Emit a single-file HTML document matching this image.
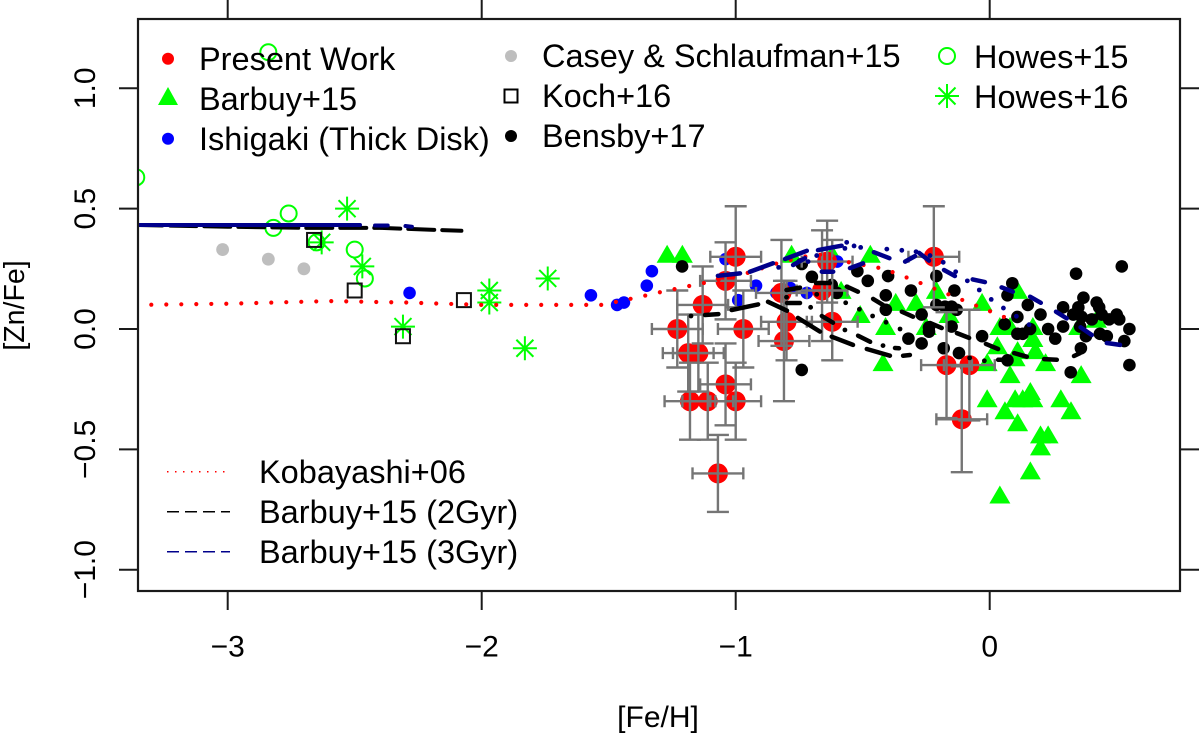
<!DOCTYPE html>
<html lang="en">
<head>
<meta charset="utf-8">
<title>[Zn/Fe] vs [Fe/H]</title>
<style>
html,body{margin:0;padding:0;background:#fff;}
svg{display:block;}
text{font-family:"Liberation Sans",Arial,sans-serif;fill:#000;}
.leg{font-size:32.5px;}
.tick{font-size:30px;}
.ttl{font-size:28.5px;}
.ttlx{font-size:30px;}
</style>
</head>
<body>
<svg id="chart" xmlns="http://www.w3.org/2000/svg" width="1200" height="735" viewBox="0 0 1200 735">
<rect x="0" y="0" width="1200" height="735" fill="#fff"/>
<defs><clipPath id="plotClip"><rect x="138" y="19" width="1042" height="572"/></clipPath></defs>
<g id="marks" clip-path="url(#plotClip)"></g>
<g id="axes"></g>
<text class="ttlx" x="658" y="727" text-anchor="middle">[Fe/H]</text>
<text class="ttl" x="0" y="0" text-anchor="middle" transform="translate(24 305.500) rotate(-90)">[Zn/Fe]</text>

<g>
<g>
<circle cx="168" cy="58.7" r="6" fill="#f00"/>
<text class="leg" x="199" y="70">Present Work</text></g>
<g>
<polygon points="168,87 178,105 158,105" fill="#0f0"/>
<text class="leg" x="199" y="110">Barbuy+15</text></g>
<g>
<circle cx="168" cy="138.7" r="6" fill="#00f"/>
<text class="leg" x="199" y="150">Ishigaki (Thick Disk)</text></g>
<g>
<circle cx="511" cy="56" r="6" fill="#bebebe"/>
<text class="leg" x="542" y="67">Casey &amp; Schlaufman+15</text></g>
<g>
<rect x="504.5" y="89.5" width="13" height="13" fill="none" stroke="#000" stroke-width="2"/>
<text class="leg" x="542" y="107">Koch+16</text></g>
<g>
<circle cx="511" cy="136" r="6" fill="#000"/>
<text class="leg" x="542" y="147">Bensby+17</text></g>
<g>
<circle cx="947" cy="56" r="8" fill="none" stroke="#0f0" stroke-width="2"/>
<text class="leg" x="974" y="68">Howes+15</text></g>
<g>
<path d="M947 84V108M935 96H959M938.5 87.5L955.500 104.500M938.500 104.500L955.500 87.500" stroke="#0f0" stroke-width="2" fill="none"/>
<text class="leg" x="974" y="108">Howes+16</text></g>
<g>
<line x1="167" y1="471.700" x2="230" y2="471.700" stroke="#f00" stroke-width="1.500" stroke-dasharray="1.500 6.500"/>
<text class="leg" x="259" y="483">Kobayashi+06</text></g>
<g>
<line x1="167" y1="511.700" x2="230" y2="511.700" stroke="#000" stroke-width="1.500" stroke-dasharray="12 6"/>
<text class="leg" x="259" y="523">Barbuy+15 (2Gyr)</text></g>
<g>
<line x1="167" y1="551.700" x2="230" y2="551.700" stroke="#00008b" stroke-width="1.500" stroke-dasharray="12 6"/>
<text class="leg" x="259" y="563">Barbuy+15 (3Gyr)</text></g>
</g>

<script>
// ---- Axis tick values ----
var xTicks = [-3, -2, -1, 0];
var yTicks = [-1, -0.5, 0, 0.5, 1];
var xTickLabels = ['\u22123', '\u22122', '\u22121', '0'];
var yTickLabels = ['\u22121.0', '\u22120.5', '0.0', '0.5', '1.0'];

// ---- Present Work ----
var presentFe = [-1.0,-1.04,-1.13,-1.23,-0.97,-1.187,-1.147,-1.04,-0.82,-0.80,-0.81,-0.64,-0.66,-0.62,-0.22,-0.17,-0.08,-0.11,-1.18,-1.11,-1.0,-1.07];
var presentZn = [0.30,0.20,0.10,0,0,-0.10,-0.10,-0.23,0.15,0.03,-0.05,0.28,0.16,0.03,0.30,-0.15,-0.15,-0.375,-0.30,-0.30,-0.30,-0.60];
var presentErrUp = [0.21,0.16,0.16,0.16,0.16,0.16,0.16,0.17,0.22,0.17,0.25,0.17,0.25,0.34,0.21,0.22,0.23,0.22,0.16,0.16,0.16,0.16];
var presentErrDown = [0.21,0.16,0.16,0.16,0.16,0.16,0.16,0.17,0.22,0.16,0.25,0.17,0.21,0.16,0.21,0.22,0.23,0.22,0.16,0.16,0.16,0.16];
var presentErrFe = 0.1;

// ---- Barbuy+15 ----
var barbuyFe = [-1.27,-1.21,-0.78,-0.62,-0.47,-0.585,-0.51,-0.41,-0.42,-0.37,-0.29,-0.21,-0.16,-0.25,-0.03,-0.01,-0.01,0.10,0.13,0.16,0.17,0.28,0.06,0.32,0.11,0.20,0.23,0.20,0.16,0.04,0.08,0.36,0.22,0.11,0.04,0.08,0.17,0.03,0.17,0.11,0.18,0.10,0.42,0.35];
var barbuyZn = [0.30,0.30,0.30,0.30,0.30,0.15,0.05,0,-0.15,0.10,0.10,0.15,0.05,0,0.10,-0.15,-0.30,-0.30,-0.30,-0.27,-0.30,-0.30,-0.35,-0.35,-0.40,-0.45,-0.45,-0.50,-0.60,-0.70,-0.20,-0.20,-0.15,0.15,0,0,0,-0.08,-0.05,-0.10,-0.10,-0.13,0.03,0];

// ---- Ishigaki ----
var ishigakiFe = [-2.284,-1.57,-1.467,-1.44,-1.35,-1.33,-1.04,-0.92,-0.99,-0.72,-0.84,-0.785,-0.60];
var ishigakiZn = [0.15,0.14,0.10,0.11,0.18,0.24,0.29,0.18,0.12,0.15,0.15,0.17,0.28];

// ---- Casey & Schlaufman+15 ----
var caseyFe = [-3.02,-2.84,-2.70];
var caseyZn = [0.33,0.29,0.25];

// ---- Koch+16 ----
var kochFe = [-2.66,-2.50,-2.31,-2.07];
var kochZn = [0.37,0.16,-0.03,0.12];

// ---- Bensby+17 ----
var bensbyFe = [-1.211,-0.74,-0.70,-0.74,-0.602,-0.622,-0.521,-0.48,-0.40,-0.409,-0.409,-0.31,-0.268,-0.32,-0.268,-0.21,-0.139,-0.21,-0.176,-0.15,-0.13,-0.239,-0.239,-0.15,-0.03,-0.181,-0.121,0.07,0.089,0.07,0.15,0.109,0.20,0.059,0.159,0.109,0.13,0.23,0.258,0.289,0.289,0.34,0.52,0.369,0.349,0.329,0.362,0.402,0.356,0.379,0.421,0.431,0.441,0.47,0.50,0.51,0.55,0.53,0.55,0.461,0.434,0.359,0.319];
var bensbyZn = [0.26,0.27,0.217,-0.17,0.15,0.183,0.24,0.20,0.22,0.14,0.08,0.16,0.06,-0.04,-0.06,0.22,0.16,0.10,0.093,0.093,0.08,0.007,-0.011,0.01,-0.03,-0.08,-0.10,-0.13,0.19,0.14,0.10,0.05,0.06,0.02,0,-0.02,-0.02,0,-0.04,0.01,0.09,0.23,0.26,0.13,0.09,0.06,0.05,0.04,0.01,-0.03,0.11,0.09,0.06,0.04,0.06,0.04,0,-0.05,-0.15,-0.03,-0.02,-0.08,-0.18];

// ---- Howes+15 ----
var howes15Fe = [-3.36,-2.76,-2.82,-2.65,-2.50,-2.46,-2.84];
var howes15Zn = [0.63,0.48,0.42,0.36,0.33,0.21,1.15];

// ---- Howes+16 ----
var howes16Fe = [-2.53,-2.63,-2.47,-2.31,-1.97,-1.97,-1.74,-1.83];
var howes16Zn = [0.50,0.36,0.26,0.01,0.16,0.11,0.21,-0.08];

// ---- Kobayashi+06 model ----
var kobayashiFe = [-3.36,-3.0,-2.6,-2.3,-2.0,-1.53,-1.393,-1.28,-1.164,-0.99,-0.822,-0.705,-0.65,-0.59,-0.416,-0.303,-0.083,0.08];
var kobayashiZn = [0.10,0.105,0.116,0.11,0.10,0.10,0.13,0.157,0.183,0.22,0.278,0.306,0.31,0.284,0.25,0.204,0.11,0.04];

// ---- Barbuy+15 2 Gyr model (null breaks the line between dashes) ----
var gyr2LeftFe = [-3.36,-3.0,-2.7,-2.4,-2.08];
var gyr2LeftZn = [0.432,0.425,0.42,0.42,0.408];
var gyr2UpperFe = [-0.80,-0.747,null,-0.684,-0.629,null,-0.563,-0.519,null,-0.459,-0.42,null,-0.346,-0.302,null,-0.235,-0.189,null,-0.129,-0.081,null,-0.015,0.033,null,0.096,0.146,null,0.214,0.264,null,0.332,0.356];
var gyr2UpperZn = [0.162,0.172,null,0.191,0.191,null,0.176,0.155,null,0.125,0.10,null,0.072,0.051,null,0.025,0.004,null,-0.017,-0.037,null,-0.062,-0.083,null,-0.10,-0.115,null,-0.125,-0.128,null,-0.112,-0.10];
var gyr2MiddleFe = [-1.121,-1.068,null,-1.016,-0.912,null,-0.873,-0.798,null,-0.755,-0.668,null,-0.622,-0.538,null,-0.484,-0.393,null,-0.341,-0.314,null,0.033,0.07];
var gyr2MiddleZn = [0.058,0.062,null,0.079,0.102,null,0.113,0.076,null,0.046,-0.011,null,-0.032,-0.066,null,-0.083,-0.111,null,-0.111,-0.108,null,-0.128,-0.128];
var gyr2LowerFe = [-0.798,-0.747,null,-0.661,-0.617,null,-0.518,-0.471,null,-0.373,-0.357];
var gyr2LowerZn = [0.108,0.108,null,0.054,0.026,null,-0.028,-0.053,null,-0.079,-0.08];
var gyr2DotsFe = [-1.176,-0.80,-0.681,-0.705,-0.567,-0.57,-0.513,-0.461,-0.408,-0.353,-0.42,-0.079,-0.021];
var gyr2DotsZn = [0.054,0.132,0.144,0.09,0.109,-0.004,0.082,0.054,0.028,0,-0.069,-0.12,-0.132];

// ---- Barbuy+15 3 Gyr model ----
var gyr3LeftFe = [-3.36,-2.479,null,-2.42,-2.37,null,-2.30,-2.275];
var gyr3LeftZn = [0.432,0.432,null,0.43,0.43,null,0.428,0.425];
var gyr3UpperFe = [-1.07,-0.983,null,-0.944,-0.853,null,-0.806,-0.72,null,-0.676,-0.583,null,-0.456,-0.395,null,-0.278,-0.239,null,-0.18,-0.137,null,-0.067,-0.019,null,0.047,0.091,null,0.159,0.201,null,0.261,0.303,null,0.358,0.402,null,0.461,0.513];
var gyr3UpperZn = [0.221,0.231,null,0.238,0.273,null,0.291,0.325,null,0.328,0.346,null,0.319,0.294,null,0.316,0.284,null,0.245,0.22,null,0.206,0.195,null,0.173,0.155,null,0.134,0.109,null,0.072,0.044,null,0.007,-0.025,null,-0.058,-0.066];
var gyr3LowerFe = [-0.774,-0.727,null,-0.661,-0.616,null,-0.55,-0.499,null,-0.333,-0.294];
var gyr3LowerZn = [0.266,0.294,null,0.238,0.238,null,0.253,0.273,null,0.28,0.303];
var gyr3DotsFe = [-0.831,-0.715,-0.681,-0.57,-0.563,-0.534,-0.508,-0.405,-0.346,-0.29,-0.235,-0.183,-0.134,-0.088,-0.041,0.006,0.054,0.105,0.155];
var gyr3DotsZn = [0.256,0.28,0.305,0.335,0.36,0.345,0.339,0.332,0.327,0.321,0.305,0.277,0.238,0.20,0.162,0.123,0.087,0.053,0.018];

// ---- Axis functions ----
function xScale(v){ return 989.7 + 254 * v; }
function yScale(v){ return 329 - 240.7 * v; }

var NS = 'http://www.w3.org/2000/svg';
var marks = document.getElementById('marks');
var axes = document.getElementById('axes');

function linePath(xs, ys){
  var d = '';
  var pen = false;
  for (var i = 0; i < xs.length; i++) {
    if (xs[i] === null) { pen = false; continue; }
    d += (pen ? 'L' : 'M') + xScale(xs[i]).toFixed(1) + ' ' + yScale(ys[i]).toFixed(1);
    pen = true;
  }
  return d;
}

function drawTriangles(xs, ys){
  for (var i = 0; i < xs.length; i++) {
    var cx = xScale(xs[i]), cy = yScale(ys[i]);
    var el = document.createElementNS(NS, 'polygon');
    el.setAttribute('points', cx + ',' + (cy - 12) + ' ' + (cx + 10.5) + ',' + (cy + 6) + ' ' + (cx - 10.5) + ',' + (cy + 6));
    el.setAttribute('fill', '#0f0');
    
    
    marks.appendChild(el);
  }
}

function drawDiscs(xs, ys, r, fill, name){
  for (var i = 0; i < xs.length; i++) {
    var el = document.createElementNS(NS, 'circle');
    el.setAttribute('cx', xScale(xs[i]));
    el.setAttribute('cy', yScale(ys[i]));
    el.setAttribute('r', r);
    el.setAttribute('fill', fill);
    
    
    marks.appendChild(el);
  }
}

function drawRings(xs, ys){
  for (var i = 0; i < xs.length; i++) {
    var el = document.createElementNS(NS, 'circle');
    el.setAttribute('cx', xScale(xs[i]));
    el.setAttribute('cy', yScale(ys[i]));
    el.setAttribute('r', 8);
    el.setAttribute('fill', 'none');
    el.setAttribute('stroke', '#0f0');
    el.setAttribute('stroke-width', 2);
    
    
    marks.appendChild(el);
  }
}

function drawSquares(xs, ys){
  for (var i = 0; i < xs.length; i++) {
    var el = document.createElementNS(NS, 'rect');
    el.setAttribute('x', xScale(xs[i]) - 7);
    el.setAttribute('y', yScale(ys[i]) - 7);
    el.setAttribute('width', 14);
    el.setAttribute('height', 14);
    el.setAttribute('fill', 'none');
    el.setAttribute('stroke', '#111');
    el.setAttribute('stroke-width', 2);
    
    
    marks.appendChild(el);
  }
}

function drawStars(xs, ys){
  for (var i = 0; i < xs.length; i++) {
    var cx = xScale(xs[i]), cy = yScale(ys[i]);
    var el = document.createElementNS(NS, 'path');
    el.setAttribute('d', 'M' + cx + ' ' + (cy - 12) + 'V' + (cy + 12) + 'M' + (cx - 12) + ' ' + cy + 'H' + (cx + 12) +
      'M' + (cx - 8.5) + ' ' + (cy - 8.5) + 'L' + (cx + 8.5) + ' ' + (cy + 8.5) +
      'M' + (cx - 8.5) + ' ' + (cy + 8.5) + 'L' + (cx + 8.5) + ' ' + (cy - 8.5));
    el.setAttribute('stroke', '#0f0');
    el.setAttribute('stroke-width', 2);
    el.setAttribute('fill', 'none');
    
    
    marks.appendChild(el);
  }
}

function drawErrorBars(){
  for (var i = 0; i < presentFe.length; i++) {
    var cx = xScale(presentFe[i]), cy = yScale(presentZn[i]);
    var xa = xScale(presentFe[i] - presentErrFe), xb = xScale(presentFe[i] + presentErrFe);
    var ya = yScale(presentZn[i] + presentErrUp[i]), yb = yScale(presentZn[i] - presentErrDown[i]);
    var el = document.createElementNS(NS, 'path');
    el.setAttribute('d',
      'M' + cx + ' ' + ya + 'V' + yb +
      'M' + (cx - 11) + ' ' + ya + 'H' + (cx + 11) +
      'M' + (cx - 11) + ' ' + yb + 'H' + (cx + 11) +
      'M' + xa + ' ' + cy + 'H' + xb +
      'M' + xa + ' ' + (cy - 6) + 'V' + (cy + 6) +
      'M' + xb + ' ' + (cy - 6) + 'V' + (cy + 6));
    el.setAttribute('stroke', '#757575');
    el.setAttribute('stroke-width', 2.4);
    el.setAttribute('fill', 'none');
    
    
    marks.appendChild(el);
  }
}

function drawLine(xs, ys, color, width, dash, name){
  var el = document.createElementNS(NS, 'path');
  el.setAttribute('d', linePath(xs, ys));
  el.setAttribute('stroke', color);
  el.setAttribute('stroke-width', width);
  el.setAttribute('stroke-linecap', 'round');
  el.setAttribute('fill', 'none');
  if (dash) el.setAttribute('stroke-dasharray', dash);
  
  
  marks.appendChild(el);
}

function drawAxes(){
  var box = document.createElementNS(NS, 'rect');
  box.setAttribute('x', 138);
  box.setAttribute('y', 19);
  box.setAttribute('width', 1042);
  box.setAttribute('height', 572);
  box.setAttribute('fill', 'none');
  box.setAttribute('stroke', '#1a1a1a');
  box.setAttribute('stroke-width', 2.2);
  
  
  axes.appendChild(box);

  xTicks.forEach(function(v, i){
    var px = xScale(v);
    var t = document.createElementNS(NS, 'path');
    t.setAttribute('d', 'M' + px + ' 591V610M' + px + ' 0V19');
    t.setAttribute('stroke', '#1a1a1a');
    t.setAttribute('stroke-width', 2);
    
    
    axes.appendChild(t);
    var lab = document.createElementNS(NS, 'text');
    lab.setAttribute('class', 'tick');
    lab.setAttribute('x', px);
    lab.setAttribute('y', 656.500);
    lab.setAttribute('text-anchor', 'middle');
    lab.textContent = xTickLabels[i];
    
    
    axes.appendChild(lab);
  });

  yTicks.forEach(function(v, i){
    var py = yScale(v);
    var t = document.createElementNS(NS, 'path');
    t.setAttribute('d', 'M119 ' + py + 'H138M1180 ' + py + 'H1199');
    t.setAttribute('stroke', '#1a1a1a');
    t.setAttribute('stroke-width', 2);
    
    
    axes.appendChild(t);
    var lab = document.createElementNS(NS, 'text');
    lab.setAttribute('class', 'tick');
    lab.setAttribute('text-anchor', 'middle');
    lab.setAttribute('transform', 'translate(95 ' + py + ') rotate(-90)');
    lab.textContent = yTickLabels[i];
    
    
    axes.appendChild(lab);
  });
}

drawTriangles(barbuyFe, barbuyZn);
drawDiscs(caseyFe, caseyZn, 6.4, '#bebebe', 'casey-schlaufman-point');
drawDiscs(ishigakiFe, ishigakiZn, 6.300, '#00f', 'ishigaki-point');
drawDiscs(bensbyFe, bensbyZn, 6.300, '#000', 'bensby17-point');
drawDiscs(presentFe, presentZn, 10, '#f00', 'present-work-point');
drawErrorBars();
drawRings(howes15Fe, howes15Zn);
drawStars(howes16Fe, howes16Zn);
drawSquares(kochFe, kochZn);
drawLine(kobayashiFe, kobayashiZn, '#f00', 4.2, '0 15', 'kobayashi06-line');
drawLine(gyr2LeftFe, gyr2LeftZn, '#000', 4, '26 8', 'barbuy15-2gyr-line-metal-poor');
drawLine(gyr2UpperFe, gyr2UpperZn, '#000', 4.5, null, 'barbuy15-2gyr-line-upper');
drawLine(gyr2MiddleFe, gyr2MiddleZn, '#000', 4.5, null, 'barbuy15-2gyr-line-middle');
drawLine(gyr2LowerFe, gyr2LowerZn, '#000', 4.5, null, 'barbuy15-2gyr-line-lower');
drawDiscs(gyr2DotsFe, gyr2DotsZn, 2.4, '#000', 'barbuy15-2gyr-dot');
drawLine(gyr3LeftFe, gyr3LeftZn, '#00008b', 4, null, 'barbuy15-3gyr-line-metal-poor');
drawLine(gyr3UpperFe, gyr3UpperZn, '#00008b', 4.5, null, 'barbuy15-3gyr-line-upper');
drawLine(gyr3LowerFe, gyr3LowerZn, '#00008b', 4.5, null, 'barbuy15-3gyr-line-lower');
drawDiscs(gyr3DotsFe, gyr3DotsZn, 2.4, '#00008b', 'barbuy15-3gyr-dot');
drawAxes();
</script>
</svg>
</body>
</html>
